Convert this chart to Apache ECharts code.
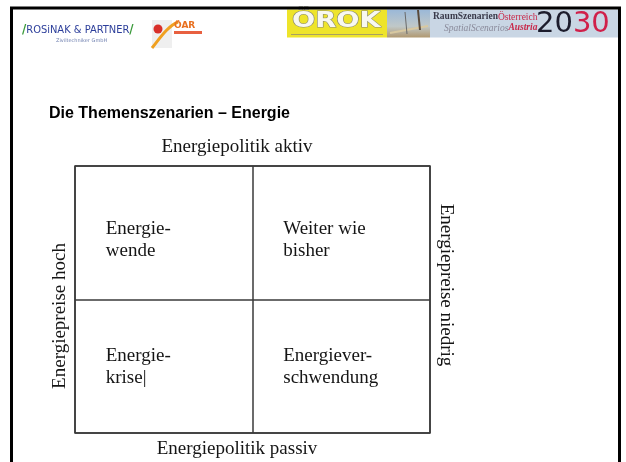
<!DOCTYPE html>
<html>
<head>
<meta charset="utf-8">
<script src="https://cdn.jsdelivr.net/npm/echarts@6/dist/echarts.min.js"></script>
<style>
html,body{margin:0;padding:0;background:#fff;}
#chart{width:626px;height:462px;}
</style>
</head>
<body>
<div id="chart"></div>
<script>
// ---- data ----
const slideTitle = 'Die Themenszenarien \u2013 Energie';
const axisTop = 'Energiepolitik aktiv';
const axisBottom = 'Energiepolitik passiv';
const axisLeft = 'Energiepreise hoch';
const axisRight = 'Energiepreise niedrig';
const quadrantLabels = ['Energie-\nwende', 'Weiter wie\nbisher', 'Energie-\nkrise|', 'Energiever-\nschwendung'];
const quadrantX = [0.5, 1.5, 0.5, 1.5];
const quadrantY = [1.5, 1.5, 0.5, 0.5];
const axisTicks = [0, 1, 2];

const chart = echarts.init(document.getElementById('chart'), null, {renderer: 'canvas'});
const lineCol = '#3a3a3a';
const textCol = '#151515';
const serif = '"Liberation Serif", "Times New Roman", serif';

const option = {
  backgroundColor: '#ffffff',
  animation: false,
  grid: {
    left: 75, top: 166, width: 355, height: 267,
    show: true, borderColor: lineCol, borderWidth: 1.5, backgroundColor: 'transparent'
  },
  xAxis: {
    type: 'value', min: axisTicks[0], max: axisTicks[axisTicks.length - 1], interval: 1,
    axisLine: {show: false}, axisTick: {show: false}, axisLabel: {show: false},
    splitLine: {show: true, lineStyle: {color: lineCol, width: 1.5}}
  },
  yAxis: {
    type: 'value', min: axisTicks[0], max: axisTicks[axisTicks.length - 1], interval: 1,
    axisLine: {show: false}, axisTick: {show: false}, axisLabel: {show: false},
    splitLine: {show: true, lineStyle: {color: lineCol, width: 1.5}}
  },
  series: [{
    type: 'scatter',
    symbolSize: 0,
    silent: true,
    itemStyle: {opacity: 1, color: textCol},
    data: quadrantLabels.map((t, i) => ({
      name: t, value: [quadrantX[i], quadrantY[i]],
      label: {offset: [-58, quadrantY[i] > 1 ? 7 : 1]}
    })),
    label: {
      show: true, position: 'inside', formatter: '{b}',
      align: 'left', verticalAlign: 'middle', opacity: 1,
      textBorderWidth: 0, textBorderColor: 'transparent',
      fontFamily: serif, fontSize: 19, lineHeight: 22, color: textCol
    }
  }],
  graphic: [
    // slide frame
    {type: 'rect', shape: {x: 11.5, y: 8, width: 608, height: 520}, style: {fill: 'none', stroke: '#000', lineWidth: 3}, z: 100},
    // Rosinak logo
    {type: 'text', x: 22, y: 30, style: {
      text: '{g|/}{b|ROSiNAK & PARTNER}{g|/}', verticalAlign: 'middle',
      rich: {
        g: {fill: '#3a9a3a', fontSize: 13, fontWeight: 'bold', fontFamily: '"DejaVu Sans Condensed", "DejaVu Sans"'},
        b: {fill: '#2c3e9a', fontSize: 11, fontFamily: '"DejaVu Sans Condensed", "DejaVu Sans"'}
      }
    }},
    {type: 'text', x: 56, y: 41, style: {text: 'Ziviltechniker GmbH', fill: '#7080b0', fontSize: 5, fontFamily: 'DejaVu Sans', verticalAlign: 'middle'}},
    // OAR logo
    {type: 'rect', shape: {x: 152, y: 20, width: 20, height: 28}, style: {fill: '#efefef'}},
    {type: 'circle', shape: {cx: 158, cy: 29, r: 4.5}, style: {fill: '#d8302a'}},
    {type: 'bezierCurve', shape: {x1: 152, y1: 48, x2: 178, y2: 22, cpx1: 160, cpy1: 38, cpx2: 168, cpy2: 26}, style: {stroke: '#f0a020', lineWidth: 3, fill: 'none'}},
    {type: 'text', x: 174, y: 26, style: {text: '\u00d6AR', fill: '#e87020', fontSize: 9, fontWeight: 'bold', fontFamily: 'DejaVu Sans', verticalAlign: 'middle'}},
    {type: 'rect', shape: {x: 174, y: 31, width: 28, height: 3}, style: {fill: '#e86040'}},
    // OROK banner
    {type: 'rect', shape: {x: 287, y: 9.5, width: 100, height: 28}, style: {fill: '#eee42a'}},
    {type: 'text', x: 292, y: 22, scaleX: 1.3, style: {text: '\u00d6ROK', fill: '#f8f8f0', stroke: '#8a8a70', lineWidth: 1, fontSize: 21, fontWeight: 'bold', fontFamily: '"DejaVu Sans"', verticalAlign: 'middle'}},
    {type: 'rect', shape: {x: 291, y: 34, width: 92, height: 1}, style: {fill: '#a8a060'}},
    {type: 'rect', shape: {x: 387, y: 9.5, width: 43, height: 28}, style: {fill: new echarts.graphic.LinearGradient(0, 0, 0, 1, [{offset: 0, color: '#9ab8d8'}, {offset: 0.6, color: '#c0c8c8'}, {offset: 1, color: '#b09870'}])}},
    {type: 'line', shape: {x1: 390, y1: 33, x2: 428, y2: 26}, style: {stroke: '#d8c8a0', lineWidth: 2}},
    {type: 'line', shape: {x1: 405, y1: 12, x2: 407, y2: 34}, style: {stroke: '#6a6a6a', lineWidth: 1}},
    {type: 'line', shape: {x1: 418, y1: 10, x2: 420, y2: 30}, style: {stroke: '#5a4a3a', lineWidth: 2}},
    // RaumSzenarien banner
    {type: 'rect', shape: {x: 430, y: 9.5, width: 188, height: 28}, style: {fill: '#c9d6e4'}},
    {type: 'text', x: 433, y: 17, style: {
      text: '{a|RaumSzenarien}{r|\u00d6sterreich}', verticalAlign: 'middle',
      rich: {
        a: {fill: '#3a3a4a', fontSize: 9.5, fontWeight: 'bold', fontFamily: serif},
        r: {fill: '#c8284a', fontSize: 9.5, fontFamily: serif}
      }
    }},
    {type: 'text', x: 444, y: 28, style: {
      text: '{a|SpatialScenarios}{r|Austria}', verticalAlign: 'middle',
      rich: {
        a: {fill: '#8a8a9a', fontSize: 9.5, fontStyle: 'italic', fontFamily: serif},
        r: {fill: '#c8284a', fontSize: 9.5, fontStyle: 'italic', fontWeight: 'bold', fontFamily: serif}
      }
    }},
    {type: 'text', x: 536, y: 24, style: {
      text: '{a|20}{r|30}', verticalAlign: 'middle',
      rich: {
        a: {fill: '#1c1c2c', fontSize: 29, fontFamily: '"DejaVu Sans"'},
        r: {fill: '#d0204a', fontSize: 29, fontFamily: '"DejaVu Sans"'}
      }
    }},
    // slide title
    {type: 'text', x: 49, y: 114, style: {text: slideTitle, fill: '#000', fontSize: 16, fontWeight: 'bold', fontFamily: '"Liberation Sans", Arial, sans-serif', verticalAlign: 'middle'}},
    // axis titles
    {type: 'text', x: 237, y: 147, style: {text: axisTop, fill: textCol, fontSize: 19, fontFamily: serif, align: 'center', verticalAlign: 'middle'}},
    {type: 'text', x: 237, y: 449, style: {text: axisBottom, fill: textCol, fontSize: 19, fontFamily: serif, align: 'center', verticalAlign: 'middle'}},
    {type: 'text', x: 60, y: 316, rotation: Math.PI / 2, style: {text: axisLeft, fill: textCol, fontSize: 19, fontFamily: serif, align: 'center', verticalAlign: 'middle'}},
    {type: 'text', x: 446, y: 285, rotation: -Math.PI / 2, style: {text: axisRight, fill: textCol, fontSize: 19, fontFamily: serif, align: 'center', verticalAlign: 'middle'}}
  ]
};
chart.setOption(option);
</script>
</body>
</html>
